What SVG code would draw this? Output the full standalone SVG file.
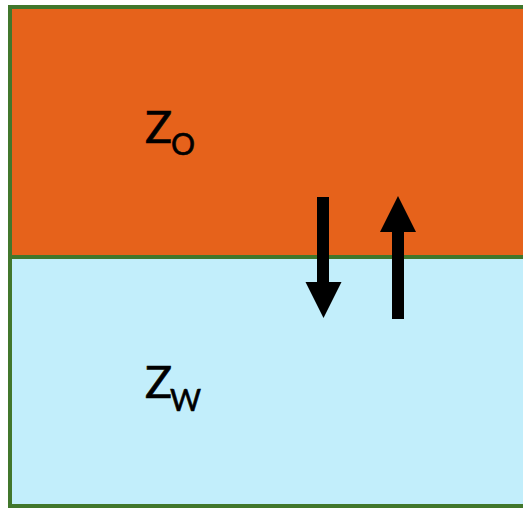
<svg xmlns="http://www.w3.org/2000/svg" width="523" height="508" viewBox="0 0 523 508">
<style>
.lbl{font-family:Lato,"DejaVu Sans",sans-serif;fill:#000;stroke:#000;stroke-width:0.6}
.big{font-size:45px}
.sub{font-size:30px}
.edge{stroke:#41772c;stroke-width:4;fill:none}
</style>
<rect width="523" height="508" fill="#ffffff"/>
<g id="oil">
<rect x="10" y="7" width="520" height="250" fill="#e6621b"/>
<text class="lbl big" x="145" y="143">Z</text><text class="lbl sub" x="171" y="155">O</text>
</g>
<g id="water">
<rect x="10" y="257" width="520" height="249" fill="#c2eefb"/>
<text class="lbl big" x="145" y="398">Z</text><text class="lbl sub" x="170" y="411">W</text>
</g>
<g id="borders">
<path class="edge" d="M530 7 H10 V506 H530 M10 257 H530"/>
</g>
<g id="connectors">
<path d="M317 197 H329 V282 H341.5 L323.5 318 L305.5 282 H317 Z" fill="#000"/>
<path d="M392 319 H404 V232 H416 L398 196 L380 232 H392 Z" fill="#000"/>
</g>
</svg>
